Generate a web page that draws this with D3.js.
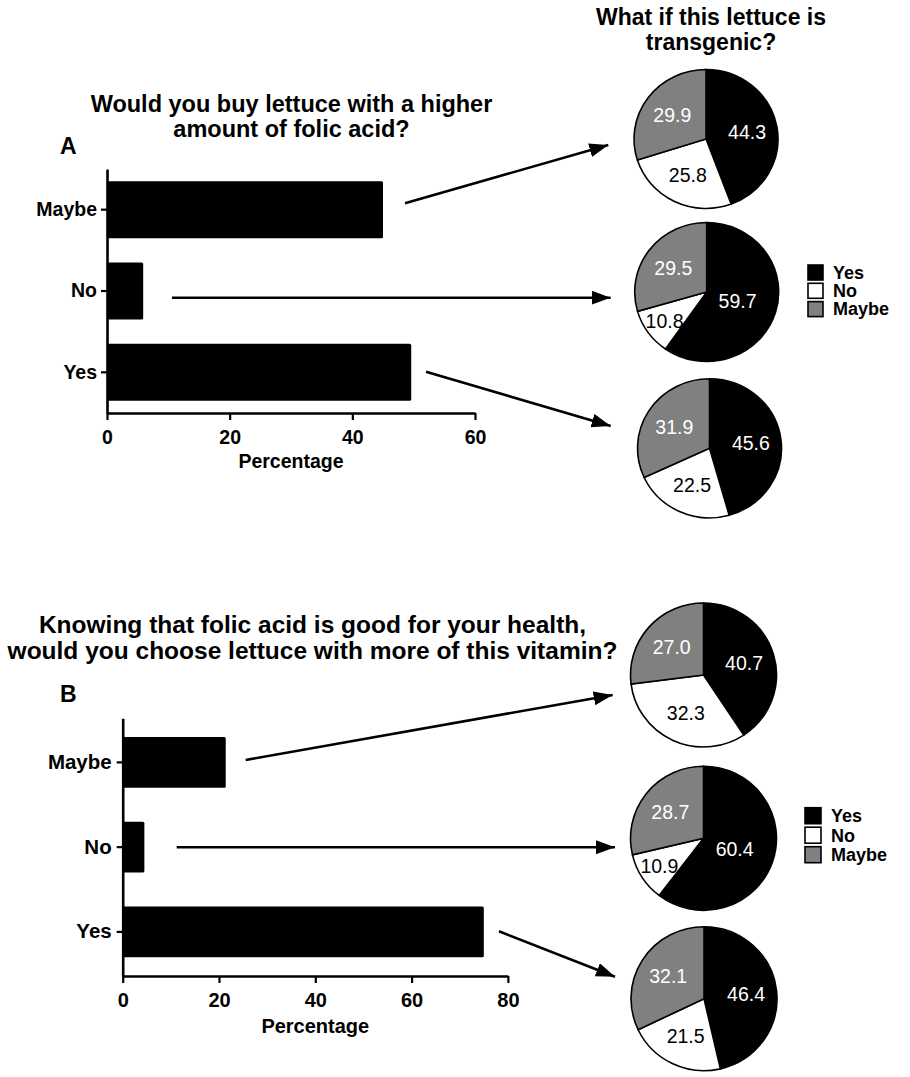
<!DOCTYPE html>
<html><head><meta charset="utf-8">
<script src="https://cdn.jsdelivr.net/npm/d3@7"></script>
<style>
body{margin:0;background:#fff}
text{font-family:"Liberation Sans",Arial,Helvetica,sans-serif}
</style>
</head><body>
<svg id="chart" width="910" height="1077"></svg>
<script>
// ---------- data ----------
const categories = ["Maybe", "No", "Yes"];
const barValuesA = [45.0, 5.9, 49.6];
const barValuesB = [21.4, 4.5, 75.0];
const ticksA = [0, 20, 40, 60];
const ticksB = [0, 20, 40, 60, 80];
const pieKeys = ["Yes", "No", "Maybe"];
const pieA_Maybe = [44.3, 25.8, 29.9];
const pieA_No = [59.7, 10.8, 29.5];
const pieA_Yes = [45.6, 22.5, 31.9];
const pieB_Maybe = [40.7, 32.3, 27.0];
const pieB_No = [60.4, 10.9, 28.7];
const pieB_Yes = [46.4, 21.5, 32.1];
const titleA = ["Would you buy lettuce with a higher", "amount of folic acid?"];
const titleB = ["Knowing that folic acid is good for your health,", "would you choose lettuce with more of this vitamin?"];
const pieTitle = ["What if this lettuce is", "transgenic?"];
const axisTitle = "Percentage";

// ---------- styles ----------
const pieFill = {Yes: "#000000", No: "#ffffff", Maybe: "#808080"};
const pieText = {Yes: "#ffffff", No: "#000000", Maybe: "#ffffff"};

const svg = d3.select("#chart");
svg.append("rect").attr("width", 910).attr("height", 1077).attr("fill", "#fff");

// arrow marker
svg.append("defs").append("marker")
  .attr("id", "arrow").attr("markerUnits", "userSpaceOnUse")
  .attr("markerWidth", 20).attr("markerHeight", 16)
  .attr("refX", 19).attr("refY", 7).attr("orient", "auto")
  .append("path").attr("d", "M0,0 L19,7 L0,14 Z").attr("fill", "#000");

function panel(cfg) {
  const x = d3.scaleLinear().domain([0, cfg.max]).range([cfg.x0, cfg.x1]);
  const y = d3.scaleBand().domain(categories).range([cfg.yTop, cfg.yBot])
    .paddingInner(cfg.padIn).paddingOuter(cfg.padOut);
  const g = svg.append("g");

  // title
  g.append("text").attr("text-anchor", "middle").attr("font-weight", "bold")
    .attr("font-size", cfg.titleSize)
    .selectAll("tspan").data(cfg.title).join("tspan")
    .attr("x", cfg.titleX).attr("y", (d, i) => cfg.titleY + i * cfg.titleGap).text(d => d);

  // panel letter
  g.append("text").attr("x", cfg.letterX).attr("y", cfg.letterY)
    .attr("font-weight", "bold").attr("font-size", 23).text(cfg.letter);

  // bars
  g.selectAll("rect.bar").data(cfg.values).join("rect").attr("class", "bar")
    .attr("x", x(0)).attr("y", (d, i) => y(categories[i]))
    .attr("width", d => x(d) - x(0)).attr("height", y.bandwidth())
    .attr("rx", 1.5).attr("fill", "#000");

  // axes
  const ax = g.append("g").attr("transform", `translate(0,${cfg.yBot})`)
    .call(d3.axisBottom(x).tickValues(cfg.ticks).tickSizeInner(7).tickSizeOuter(0).tickPadding(10));
  const ay = g.append("g").attr("transform", `translate(${cfg.x0},0)`)
    .call(d3.axisLeft(y).tickSizeInner(6).tickSizeOuter(0).tickPadding(cfg.yPad));
  [ax, ay].forEach(a => {
    a.select(".domain").attr("stroke", "#000").attr("stroke-width", 2.6);
    a.selectAll(".tick line").attr("stroke", "#000").attr("stroke-width", 2.2);
    a.selectAll("text").attr("font-family", "Liberation Sans, Arial, sans-serif")
      .attr("font-weight", "bold").attr("fill", "#000");
  });
  ax.selectAll("text").attr("font-size", cfg.tickSize);
  ay.selectAll("text").attr("font-size", cfg.catSize);

  g.append("text").attr("x", (cfg.x0 + cfg.x1) / 2).attr("y", cfg.axisTitleY)
    .attr("text-anchor", "middle").attr("font-weight", "bold")
    .attr("font-size", cfg.tickSize).text(axisTitle);

  // arrows
  g.selectAll("line.arrow").data(cfg.arrows).join("line").attr("class", "arrow")
    .attr("x1", d => d[0]).attr("y1", d => d[1])
    .attr("x2", d => d[2]).attr("y2", d => d[3])
    .attr("stroke", "#000").attr("stroke-width", 2.6)
    .attr("marker-end", "url(#arrow)");

  // pies
  const pie = d3.pie().sort(null).value(d => d);
  cfg.pies.forEach((p, k) => {
    const arcs = pie(p.values);
    const arc = d3.arc().innerRadius(0).outerRadius(cfg.ry);
    const pg = g.append("g")
      .attr("transform", `translate(${p.cx},${p.cy}) scale(${cfg.rx / cfg.ry},1)`);
    pg.selectAll("path").data(arcs).join("path")
      .attr("d", arc).attr("fill", (d, i) => pieFill[pieKeys[i]])
      .attr("stroke", "#000").attr("stroke-width", 1.6)
      .attr("vector-effect", "non-scaling-stroke");
    const lg = g.append("g").attr("transform", `translate(${p.cx},${p.cy})`);
    const fac = v => v > 55 ? 0.45 : v < 15 ? 0.72 : 0.58;
    lg.selectAll("text").data(arcs).join("text")
      .attr("x", d => Math.sin((d.startAngle + d.endAngle) / 2) * fac(d.value) * cfg.rx)
      .attr("y", d => -Math.cos((d.startAngle + d.endAngle) / 2) * fac(d.value) * cfg.ry)
      .attr("text-anchor", "middle").attr("dominant-baseline", "central")
      .attr("font-size", 19.5).attr("fill", (d, i) => pieText[pieKeys[i]])
      .text(d => d.value.toFixed(1));
  });

  // legend
  const leg = g.append("g");
  pieKeys.forEach((key, i) => {
    leg.append("rect").attr("x", cfg.legX).attr("y", cfg.legY + i * cfg.legStep)
      .attr("width", cfg.legSize).attr("height", cfg.legSize)
      .attr("fill", pieFill[key]).attr("stroke", "#000").attr("stroke-width", 1.6);
    leg.append("text").attr("x", cfg.legX + cfg.legSize + 10)
      .attr("y", cfg.legY + i * cfg.legStep + cfg.legSize - 1.5)
      .attr("font-weight", "bold").attr("font-size", 18).text(key);
  });
}

// pie column title
svg.append("text").attr("text-anchor", "middle").attr("font-weight", "bold").attr("font-size", 23)
  .selectAll("tspan").data(pieTitle).join("tspan")
  .attr("x", 711).attr("y", (d, i) => 25 + i * 25).text(d => d);

panel({
  values: barValuesA, ticks: ticksA, max: 60,
  x0: 107, x1: 475, yTop: 169, yBot: 413, padIn: 0.3, padOut: 0.15,
  title: titleA, titleX: 291.5, titleY: 112, titleGap: 25, titleSize: 23.5,
  letter: "A", letterX: 60, letterY: 154,
  tickSize: 19.5, catSize: 19.5, yPad: 4, axisTitleY: 468,
  arrows: [[405, 203.3, 608.3, 145], [172, 297.7, 610.7, 297.7], [426, 371.7, 610.7, 426]],
  rx: 72, ry: 69.5,
  pies: [{cx: 706, cy: 139, values: pieA_Maybe}, {cx: 706.7, cy: 292, values: pieA_No}, {cx: 709.5, cy: 448.3, values: pieA_Yes}],
  legX: 808, legY: 265, legStep: 18.3, legSize: 15
});

panel({
  values: barValuesB, ticks: ticksB, max: 80,
  x0: 122.7, x1: 507.9, yTop: 718.3, yBot: 976, padIn: 0.4, padOut: 0.22,
  title: titleB, titleX: 312.5, titleY: 633, titleGap: 26, titleSize: 24.5,
  letter: "B", letterX: 60, letterY: 702,
  tickSize: 20, catSize: 20.5, yPad: 5, axisTitleY: 1033,
  arrows: [[245.7, 760, 612.7, 695], [176.7, 847.3, 615, 847.3], [499, 931.3, 615, 976.7]],
  rx: 73, ry: 72,
  pies: [{cx: 703.5, cy: 675, values: pieB_Maybe}, {cx: 703.5, cy: 838.3, values: pieB_No}, {cx: 704, cy: 998.7, values: pieB_Yes}],
  legX: 805, legY: 807.7, legStep: 19.5, legSize: 16
});
</script>
</body></html>
